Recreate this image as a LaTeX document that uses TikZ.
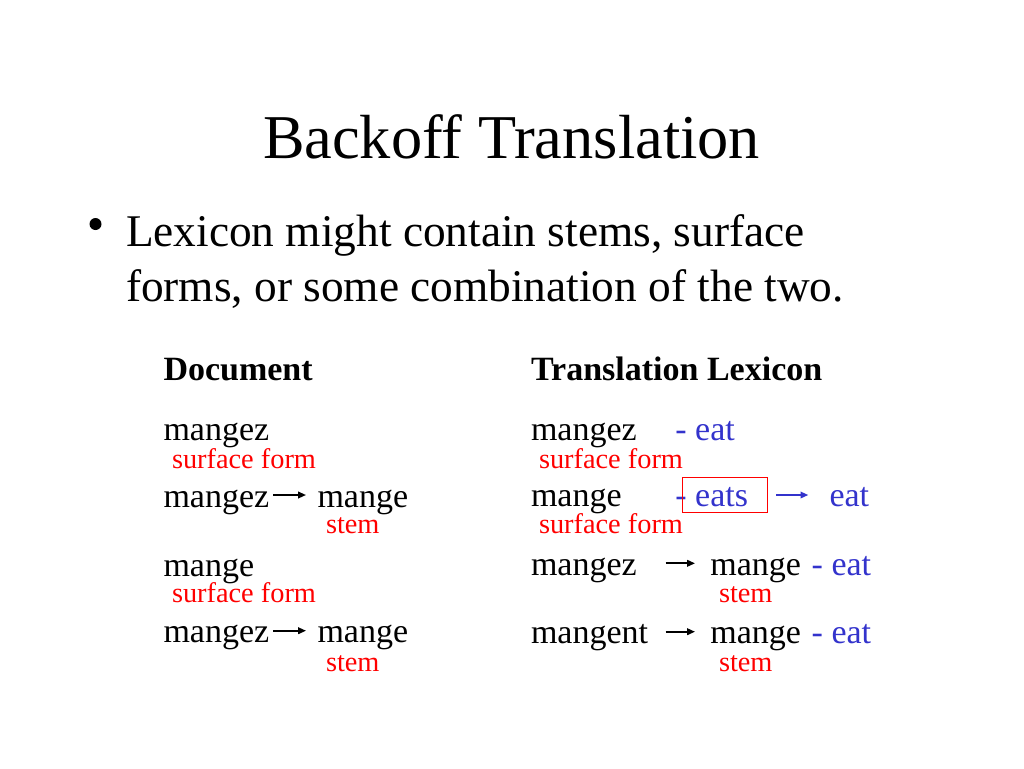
\documentclass[tikz,border=0pt]{standalone}
\usepackage{fontspec}
\setmainfont{Liberation Serif}
\usetikzlibrary{arrows.meta}
\definecolor{lexblue}{RGB}{51,51,204}
\definecolor{lexred}{RGB}{255,0,0}
\begin{document}
\begin{tikzpicture}[x=0.7058pt,y=-0.7058pt,
  every node/.style={inner sep=0pt,outer sep=0pt,anchor=base west},
  titletext/.style={font=\fontsize{44}{52}\selectfont,anchor=base},
  bullettext/.style={font=\fontsize{32}{38}\selectfont},
  word/.style={font=\fontsize{24}{29}\selectfont},
  headword/.style={font=\fontsize{24}{29}\selectfont\bfseries},
  gloss/.style={font=\fontsize{24}{29}\selectfont,text=lexblue},
  lbl/.style={font=\fontsize{20}{24}\selectfont,text=lexred},
  arr/.style={-{Triangle[length=5.5pt,width=4.6pt]},line width=1.2pt},
  hl/.style={draw=lexred,line width=1.1pt}]
\useasboundingbox (0,0) rectangle (1024,768);
% title and bullet
\node[titletext] (title) at (511.5,158.3) {Backoff Translation};
\fill (95.5,224) circle[radius=6];
\node[bullettext] (b1) at (126,246.7) {Lexicon might contain stems, surface};
\node[bullettext] (b2) at (126,301.7) {forms, or some combination of the two.};
% headers
\node[headword] (hdoc) at (163.5,380.7) {Document};
\node[headword] (hlex) at (531,380.7) {Translation Lexicon};
% document column
\node[word] (d1) at (163.5,440) {mangez};
\node[lbl] (d1l) at (172,468.3) {surface form};
\node[word] (d2) at (163.5,507.3) {mangez};
\coordinate (d2s) at (273.3,495);
\coordinate (d2t) at (306,495);
\draw[arr] (d2s) -- (d2t);
\node[word] (d2b) at (317.5,507.3) {mange};
\node[lbl] (d2l) at (326,533.8) {stem};
\node[word] (d3) at (163.5,576) {mange};
\node[lbl] (d3l) at (172,602.3) {surface form};
\node[word] (d4) at (163.5,642.7) {mangez};
\coordinate (d4s) at (273.3,630.7);
\coordinate (d4t) at (306,630.7);
\draw[arr] (d4s) -- (d4t);
\node[word] (d4b) at (317.5,642.7) {mange};
\node[lbl] (d4l) at (326,671.2) {stem};
% lexicon column
\node[word] (t1) at (531,440) {mangez};
\node[gloss] (t1e) at (675.4,440) {- eat};
\node[lbl] (t1l) at (539,468.3) {surface form};
\node[word] (t2) at (531,506.7) {mange};
\node[gloss] (t2e) at (675.4,506.7) {- eats};
\draw[hl] (682.3,477.3) rectangle (767.7,512.3);
\coordinate (t2s) at (776,495);
\coordinate (t2t) at (808.3,495);
\draw[arr,draw=lexblue,fill=lexblue] (t2s) -- (t2t);
\node[gloss] (t2f) at (829.5,506.7) {eat};
\node[lbl] (t2l) at (539,533.3) {surface form};
\node[word] (t3) at (531,575) {mangez};
\coordinate (t3s) at (665.7,563.3);
\coordinate (t3t) at (695,563.3);
\draw[arr] (t3s) -- (t3t);
\node[word] (t3b) at (710.3,575) {mange};
\node[gloss] (t3e) at (811.7,575) {- eat};
\node[lbl] (t3l) at (719,602.7) {stem};
\node[word] (t4) at (531,643.3) {mangent};
\coordinate (t4s) at (665.7,631.7);
\coordinate (t4t) at (695,631.7);
\draw[arr] (t4s) -- (t4t);
\node[word] (t4b) at (710.3,643.3) {mange};
\node[gloss] (t4e) at (811.7,643.3) {- eat};
\node[lbl] (t4l) at (719,671.7) {stem};
\end{tikzpicture}
\end{document}
